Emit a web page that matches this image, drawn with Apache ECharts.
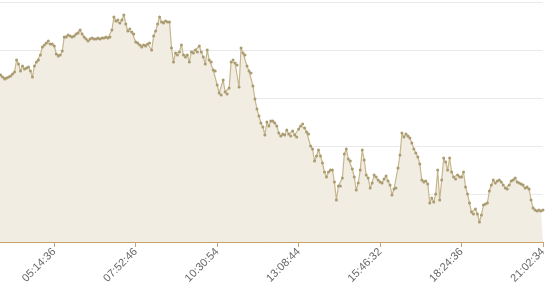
<!DOCTYPE html>
<html>
<head>
<meta charset="utf-8">
<script src="https://cdn.jsdelivr.net/npm/echarts@6/dist/echarts.min.js"></script>
<style>html,body{margin:0;padding:0;background:#fff}#c{width:557px;height:300px}</style>
</head>
<body>
<div id="c"></div>
<script>
// Tick labels shown on the x axis (every 41st category)
var tickLabels = ['02:36:26', '05:14:36', '07:52:46', '10:30:54', '13:08:44', '15:46:32', '18:24:36', '21:02:34'];
var stepsPerTick = 41;

// Series values (arbitrary units, axis 0..240)
var values = [
  168,166,169,167,165,168,170,167,166,169,168,166,167,168,
  167,165,163,164,165,166,168,170,182,178,
  171,176,173,174,175,171,165,176,180,182,
  187,195,197,199,201,198,198,196,188,186,
  187,191,205,205,207,206,205,206,208,209,
  212,208,205,203,201,203,204,203,203,204,
  203,204,204,205,204,205,212,225,221,222,
  219,222,227,218,211,213,210,208,200,199,
  197,195,197,196,198,199,192,206,211,218,
  225,220,219,221,220,220,194,180,189,187,
  190,197,187,185,187,180,190,189,192,190,
  196,190,185,178,192,182,180,172,171,157,
  149,147,162,150,148,154,180,182,179,177,
  155,194,189,187,176,171,169,156,143,133,
  126,119,115,107,120,116,121,121,119,116,
  109,106,108,107,112,108,106,111,107,105,
  113,116,118,114,110,108,96,93,81,86,
  92,86,79,70,65,70,72,72,60,42,
  56,56,64,88,93,83,81,73,65,52,
  59,72,92,82,67,64,54,59,67,65,
  62,60,59,63,66,61,57,47,53,54,
  74,87,109,105,108,106,104,99,93,89,
  85,78,62,60,61,58,39,44,40,48,
  72,42,62,84,80,72,84,70,65,63,
  67,65,65,70,55,48,39,30,28,33,
  28,20,27,37,38,39,51,57,62,59,
  61,62,60,57,54,53,57,61,62,64,
  60,59,58,57,54,55,53,42,34,32,
  31,32,31,32
];

// Build category timestamps between the tick labels
function toSec(s){var p=s.split(':');return (+p[0])*3600+(+p[1])*60+(+p[2]);}
function pad(n){return (n<10?'0':'')+n;}
function fmt(t){t=Math.round(t);return pad(Math.floor(t/3600))+':'+pad(Math.floor(t%3600/60))+':'+pad(t%60);}
var categories = [];
for (var a = 0; a < tickLabels.length - 1; a++) {
  var t0 = toSec(tickLabels[a]), t1 = toSec(tickLabels[a+1]);
  for (var j = 0; j < stepsPerTick; j++) {
    categories.push(j === 0 ? tickLabels[a] : fmt(t0 + (t1 - t0) * j / stepsPerTick));
  }
}
categories.push(tickLabels[tickLabels.length - 1]);

var chart = echarts.init(document.getElementById('c'), null, {renderer: 'canvas'});
chart.setOption({
  animation: false,
  grid: {left: -27.15, right: 14, top: 2, bottom: 58, containLabel: false, outerBoundsMode: 'none'},
  xAxis: {
    type: 'category',
    data: categories,
    boundaryGap: false,
    axisLine: {lineStyle: {color: '#c8a46a', width: 1}},
    axisTick: {show: true, interval: stepsPerTick - 1, length: 5, lineStyle: {color: '#c8a46a'}},
    axisLabel: {interval: stepsPerTick - 1, rotate: 45, color: '#666', fontSize: 11, fontFamily: 'Liberation Sans, Arial, sans-serif'},
    splitLine: {show: false}
  },
  yAxis: {
    type: 'value',
    min: 0, max: 240, interval: 48,
    axisLine: {show: false},
    axisTick: {show: false},
    axisLabel: {show: false},
    splitLine: {lineStyle: {color: '#e9e9e9'}}
  },
  series: [{
    type: 'line',
    data: values,
    symbol: 'circle',
    symbolSize: 3,
    showAllSymbol: true,
    lineStyle: {color: '#c6b68c', width: 1.2},
    itemStyle: {color: '#ab9b70'},
    areaStyle: {color: '#f1ede3', opacity: 1}
  }]
});
</script>
</body>
</html>
